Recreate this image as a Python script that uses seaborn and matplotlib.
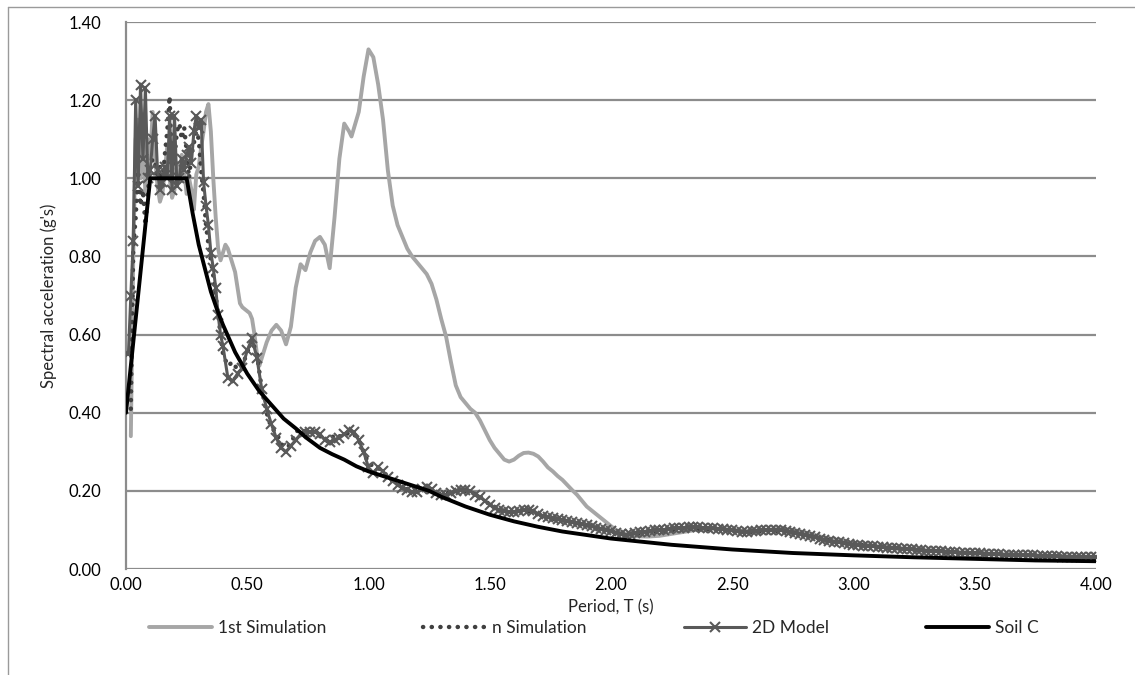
import matplotlib
matplotlib.use("Agg")
import matplotlib.pyplot as plt
from matplotlib.lines import Line2D
import seaborn as sns

# ---------------- data ----------------
t_first = [0.02, 0.03, 0.04, 0.05, 0.06, 0.07, 0.08, 0.09, 0.10, 0.11, 0.12, 0.13, 0.14, 0.15,
           0.16, 0.17, 0.18, 0.19, 0.20, 0.21, 0.22, 0.23, 0.24, 0.25, 0.26, 0.27, 0.28, 0.29,
           0.30, 0.31, 0.32, 0.33, 0.34, 0.35, 0.36, 0.37, 0.38, 0.39, 0.40, 0.41, 0.42, 0.43,
           0.44, 0.45, 0.46, 0.47, 0.48, 0.49, 0.50, 0.51, 0.52, 0.53, 0.54, 0.55, 0.56, 0.58,
           0.60, 0.62, 0.64, 0.66, 0.68, 0.70, 0.72, 0.74, 0.76, 0.78, 0.80, 0.82, 0.84, 0.86,
           0.88, 0.90, 0.92, 0.93, 0.96, 0.98, 1.00, 1.02, 1.04, 1.06, 1.08, 1.10, 1.12, 1.14,
           1.16, 1.18, 1.20, 1.22, 1.24, 1.26, 1.28, 1.30, 1.32, 1.34, 1.36, 1.38, 1.40, 1.42,
           1.44, 1.46, 1.48, 1.50, 1.52, 1.54, 1.56, 1.58, 1.60, 1.62, 1.64, 1.66, 1.68, 1.70,
           1.72, 1.74, 1.76, 1.78, 1.80, 1.82, 1.84, 1.86, 1.88, 1.90, 1.92, 1.94, 1.96, 1.98,
           2.00, 2.02, 2.04, 2.06, 2.08, 2.10, 2.15, 2.20, 2.25, 2.30, 2.35, 2.40, 2.45, 2.50,
           2.55, 2.60, 2.65, 2.70, 2.75, 2.80, 2.85, 2.90, 3.00, 3.10, 3.20, 3.30, 3.40, 3.50,
           3.60, 3.70, 3.80, 3.90, 4.00]
sa_first = [0.34, 0.80, 1.10, 1.15, 1.00, 1.12, 0.96, 1.10, 1.05, 1.17, 1.05, 0.98, 0.94, 0.96,
            1.02, 1.08, 1.00, 0.95, 0.97, 1.04, 1.00, 1.06, 1.02, 0.96, 1.00, 0.97, 0.92, 1.01,
            1.03, 1.08, 1.12, 1.17, 1.19, 1.12, 1.00, 0.90, 0.82, 0.79, 0.81, 0.83, 0.82, 0.80,
            0.78, 0.76, 0.72, 0.68, 0.67, 0.665, 0.66, 0.655, 0.64, 0.60, 0.55, 0.52, 0.54, 0.58,
            0.61, 0.625, 0.61, 0.575, 0.62, 0.72, 0.78, 0.765, 0.81, 0.84, 0.85, 0.83, 0.77, 0.90,
            1.05, 1.14, 1.12, 1.107, 1.17, 1.26, 1.33, 1.31, 1.24, 1.15, 1.02, 0.93, 0.88, 0.85,
            0.82, 0.80, 0.785, 0.77, 0.755, 0.73, 0.69, 0.64, 0.595, 0.53, 0.47, 0.44, 0.425, 0.41,
            0.40, 0.38, 0.355, 0.33, 0.31, 0.295, 0.28, 0.275, 0.28, 0.29, 0.297, 0.298, 0.295, 0.288,
            0.275, 0.26, 0.25, 0.238, 0.228, 0.215, 0.202, 0.19, 0.175, 0.16, 0.15, 0.14, 0.13, 0.12,
            0.11, 0.10, 0.094, 0.09, 0.086, 0.084, 0.083, 0.085, 0.09, 0.095, 0.10, 0.103, 0.103, 0.10,
            0.097, 0.098, 0.10, 0.103, 0.10, 0.093, 0.085, 0.078, 0.066, 0.058, 0.053, 0.048, 0.044, 0.041,
            0.038, 0.036, 0.034, 0.032, 0.030]

t_nsim = [0.02, 0.03, 0.04, 0.05, 0.06, 0.07, 0.08, 0.09, 0.10, 0.11, 0.12, 0.13, 0.14, 0.15,
          0.16, 0.17, 0.18, 0.19, 0.20, 0.21, 0.22, 0.23, 0.24, 0.25, 0.26, 0.27, 0.28, 0.29,
          0.30, 0.31, 0.32, 0.33, 0.34, 0.35, 0.36, 0.37, 0.38, 0.39, 0.40, 0.42, 0.44, 0.46,
          0.48, 0.50, 0.52, 0.54, 0.56, 0.58, 0.60, 0.62, 0.64, 0.66, 0.68, 0.70, 0.72, 0.74,
          0.76, 0.78, 0.80, 0.82, 0.84, 0.86, 0.88, 0.90, 0.92, 0.94, 0.96, 0.98, 1.00, 1.05,
          1.10, 1.15, 1.20, 1.25, 1.30, 1.35, 1.40, 1.45, 1.50, 1.55, 1.60, 1.65, 1.70, 1.75,
          1.80, 1.85, 1.90, 1.95, 2.00, 2.05, 2.10, 2.15, 2.20, 2.25, 2.30, 2.35, 2.40, 2.45,
          2.50, 2.55, 2.60, 2.65, 2.70, 2.75, 2.80, 2.85, 2.90, 2.95, 3.00, 3.10, 3.20, 3.30,
          3.40, 3.50, 3.60, 3.70, 3.80, 3.90, 4.00]
sa_nsim = [0.41, 0.82, 0.90, 1.02, 0.93, 0.97, 0.88, 0.96, 1.03, 1.05, 1.04, 1.00, 1.03, 0.98,
           1.06, 1.12, 1.21, 1.02, 1.05, 1.12, 1.14, 1.10, 1.13, 1.07, 1.00, 1.06, 1.09, 1.12,
           1.10, 1.02, 0.96, 0.88, 0.83, 0.79, 0.75, 0.70, 0.65, 0.60, 0.55, 0.52, 0.53, 0.51,
           0.52, 0.555, 0.585, 0.55, 0.46, 0.40, 0.36, 0.35, 0.32, 0.31, 0.32, 0.35, 0.36, 0.35,
           0.35, 0.345, 0.34, 0.33, 0.325, 0.345, 0.34, 0.34, 0.35, 0.345, 0.33, 0.30, 0.27, 0.255,
           0.225, 0.205, 0.20, 0.205, 0.19, 0.198, 0.20, 0.19, 0.165, 0.15, 0.147, 0.15, 0.14, 0.13,
           0.125, 0.118, 0.112, 0.105, 0.097, 0.089, 0.09, 0.092, 0.096, 0.10, 0.102, 0.103, 0.102, 0.10,
           0.098, 0.095, 0.095, 0.097, 0.097, 0.094, 0.087, 0.08, 0.073, 0.068, 0.063, 0.057, 0.052, 0.047,
           0.044, 0.040, 0.038, 0.035, 0.033, 0.031, 0.030]

t_model = [0.01, 0.02, 0.03, 0.04, 0.05, 0.06, 0.07, 0.08, 0.09, 0.10, 0.11, 0.12, 0.13, 0.14,
           0.15, 0.16, 0.17, 0.18, 0.19, 0.20, 0.21, 0.22, 0.23, 0.24, 0.25, 0.26, 0.27, 0.28,
           0.29, 0.30, 0.31, 0.32, 0.33, 0.34, 0.35, 0.36, 0.37, 0.38, 0.39, 0.40,
           0.42, 0.44, 0.46, 0.48, 0.50, 0.52, 0.54, 0.56, 0.58, 0.60, 0.62, 0.64, 0.66, 0.68,
           0.70, 0.72, 0.74, 0.76, 0.78, 0.80, 0.82, 0.84, 0.86, 0.88, 0.90, 0.92, 0.94, 0.96,
           0.98, 1.00, 1.02, 1.04, 1.06, 1.08, 1.10, 1.12, 1.14, 1.16, 1.18, 1.20, 1.22, 1.24,
           1.26, 1.28, 1.30, 1.32, 1.34, 1.36, 1.38, 1.40, 1.42, 1.44, 1.46, 1.48, 1.50, 1.52,
           1.54, 1.56, 1.58, 1.60, 1.62, 1.64, 1.66, 1.68, 1.70, 1.72, 1.74, 1.76, 1.78, 1.80,
           1.82, 1.84, 1.86, 1.88, 1.90, 1.92, 1.94, 1.96, 1.98, 2.00, 2.02, 2.04, 2.06, 2.08,
           2.10, 2.12, 2.14, 2.16, 2.18, 2.20, 2.22, 2.24, 2.26, 2.28, 2.30, 2.32, 2.34, 2.36,
           2.38, 2.40, 2.42, 2.44, 2.46, 2.48, 2.50, 2.52, 2.54, 2.56, 2.58, 2.60, 2.62, 2.64,
           2.66, 2.68, 2.70, 2.72, 2.74, 2.76, 2.78, 2.80, 2.82, 2.84, 2.86, 2.88, 2.90, 2.92,
           2.94, 2.96, 2.98, 3.00, 3.02, 3.04, 3.06, 3.08, 3.10, 3.12, 3.14, 3.16, 3.18, 3.20,
           3.22, 3.24, 3.26, 3.28, 3.30, 3.32, 3.34, 3.36, 3.38, 3.40, 3.42, 3.44, 3.46, 3.48,
           3.50, 3.52, 3.54, 3.56, 3.58, 3.60, 3.62, 3.64, 3.66, 3.68, 3.70, 3.72, 3.74, 3.76,
           3.78, 3.80, 3.82, 3.84, 3.86, 3.88, 3.90, 3.92, 3.94, 3.96, 3.98, 4.00]
sa_model = [0.55, 0.70, 0.84, 1.20, 0.98, 1.24, 1.05, 1.23, 1.00, 1.02, 1.10, 1.16, 1.02, 0.97,
            0.99, 1.03, 1.00, 1.16, 0.97, 1.16, 0.98, 1.00, 1.05, 1.02, 1.06, 1.08, 1.04, 1.12,
            1.16, 1.13, 1.15, 0.99, 0.93, 0.88, 0.81, 0.77, 0.72, 0.65, 0.60, 0.57,
            0.49, 0.48, 0.50, 0.515, 0.56, 0.59, 0.54, 0.46, 0.41, 0.37, 0.335, 0.31, 0.30, 0.315,
            0.33, 0.345, 0.35, 0.351, 0.35, 0.345, 0.33, 0.325, 0.33, 0.335, 0.345, 0.355, 0.35, 0.33,
            0.30, 0.26, 0.245, 0.26, 0.25, 0.235, 0.225, 0.215, 0.208, 0.202, 0.198, 0.198, 0.205, 0.21,
            0.205, 0.195, 0.19, 0.19, 0.195, 0.20, 0.202, 0.203, 0.20, 0.19, 0.185, 0.175, 0.165, 0.155,
            0.152, 0.148, 0.146, 0.147, 0.148, 0.15, 0.151, 0.148, 0.14, 0.135, 0.132, 0.13, 0.127, 0.125,
            0.122, 0.12, 0.117, 0.114, 0.112, 0.109, 0.106, 0.103, 0.10, 0.097, 0.093, 0.09, 0.088, 0.089,
            0.092, 0.094, 0.096, 0.098, 0.099, 0.10, 0.101, 0.103, 0.104, 0.105, 0.106, 0.107, 0.107, 0.107,
            0.106, 0.105, 0.104, 0.103, 0.102, 0.101, 0.10, 0.098, 0.096, 0.096, 0.097, 0.098, 0.099, 0.10,
            0.10, 0.10, 0.099, 0.097, 0.095, 0.093, 0.09, 0.087, 0.084, 0.081, 0.078, 0.075, 0.072, 0.07,
            0.068, 0.066, 0.064, 0.062, 0.061, 0.060, 0.059, 0.058, 0.057, 0.056, 0.055, 0.054, 0.053, 0.052,
            0.051, 0.050, 0.049, 0.048, 0.047, 0.046, 0.046, 0.045, 0.044, 0.044, 0.043, 0.042, 0.042, 0.041,
            0.040, 0.040, 0.039, 0.039, 0.038, 0.038, 0.037, 0.037, 0.036, 0.036, 0.035, 0.035, 0.035, 0.034,
            0.034, 0.033, 0.033, 0.033, 0.032, 0.032, 0.031, 0.031, 0.031, 0.030, 0.030, 0.030]

t_soil = [0.0, 0.10, 0.25, 0.275, 0.30, 0.325, 0.35, 0.375, 0.40, 0.45, 0.50, 0.55, 0.60, 0.65,
          0.70, 0.75, 0.80, 0.85, 0.90, 0.95, 1.00, 1.10, 1.20, 1.25, 1.30, 1.40, 1.50, 1.60,
          1.70, 1.80, 1.90, 2.00, 2.25, 2.50, 2.75, 3.00, 3.25, 3.50, 3.75, 4.00]
sa_soil = [0.40, 1.00, 1.00, 0.91, 0.83, 0.77, 0.71, 0.665, 0.625, 0.555, 0.50, 0.455, 0.42, 0.385,
           0.36, 0.333, 0.31, 0.294, 0.28, 0.263, 0.25, 0.23, 0.21, 0.20, 0.185, 0.16, 0.139, 0.122,
           0.108, 0.096, 0.087, 0.078, 0.062, 0.050, 0.041, 0.035, 0.030, 0.026, 0.022, 0.020]

series_names = ["1st Simulation", "n Simulation", "2D Model", "Soil C"]
y_ticks = [0.0, 0.2, 0.4, 0.6, 0.8, 1.0, 1.2, 1.4]
x_ticks = [0.0, 0.5, 1.0, 1.5, 2.0, 2.5, 3.0, 3.5, 4.0]

# ---------------- style ----------------
sns.set_style("white")
plt.rcParams["font.family"] = ["Lato", "DejaVu Sans"]

fig = plt.figure(figsize=(11.35, 6.75), dpi=100)
ax = fig.add_axes([0.111, 0.157, 0.8546, 0.8104])

grid_c = "#8c8c8c"
for yv in y_ticks:
    ax.axhline(yv, color=grid_c, lw=1.6, zorder=0)

sns.lineplot(x=t_first, y=sa_first, ax=ax, color="#a6a6a6", lw=2.8,
             label=series_names[0], zorder=2, sort=False)
sns.lineplot(x=t_nsim, y=sa_nsim, ax=ax, color="#404040", lw=3.2,
             linestyle=(0, (0.05, 1.9)), dash_capstyle="round",
             label=series_names[1], zorder=3, sort=False)
sns.lineplot(x=t_model, y=sa_model, ax=ax, color="#595959", lw=2.2,
             marker="x", markersize=7, markeredgewidth=1.5, markeredgecolor="#595959",
             label=series_names[2], zorder=4, sort=False)
sns.lineplot(x=t_soil, y=sa_soil, ax=ax, color="black", lw=2.8,
             label=series_names[3], zorder=5, sort=False)

ax.set_xlim(0, 4.0)
ax.set_ylim(0, 1.40)
ax.set_xticks(x_ticks)
ax.set_yticks(y_ticks)
ax.set_xticklabels([f"{v:.2f}" for v in x_ticks])
ax.set_yticklabels([f"{v:.2f}" for v in y_ticks])
ax.tick_params(axis="both", length=0, labelsize=12, colors="#000000")
ax.tick_params(axis="x", pad=6)
ax.tick_params(axis="y", pad=18)
for s in ["top", "right", "bottom"]:
    ax.spines[s].set_visible(False)
ax.spines["left"].set_color(grid_c)
ax.spines["left"].set_linewidth(1.6)

ax.set_xlabel("Period, T (s)", fontsize=12, labelpad=4)
ax.set_ylabel("Spectral acceleration (g's)", fontsize=12, labelpad=8)

leg = ax.legend(loc="center", bbox_to_anchor=(0.4825, -0.108), ncol=4, frameon=False,
                fontsize=12.5, handlelength=3.6, columnspacing=5.6, handletextpad=0.35,
                borderaxespad=0)

# chart-area border (only left and top edges are visible in the reference)
fig.add_artist(Line2D([8 / 1135, 8 / 1135], [0, 1 - 7 / 675], transform=fig.transFigure,
                      color="#9a9a9a", lw=1.0))
fig.add_artist(Line2D([8 / 1135, 1], [1 - 7 / 675, 1 - 7 / 675], transform=fig.transFigure,
                      color="#9a9a9a", lw=1.0))

fig.savefig("out.png", dpi=100, facecolor="white")
